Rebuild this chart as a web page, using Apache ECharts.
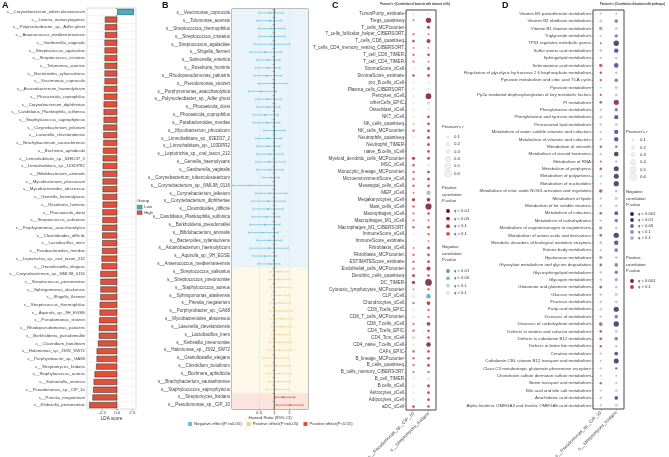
<!DOCTYPE html>
<html><head><meta charset="utf-8">
<script src="https://cdn.jsdelivr.net/npm/echarts@6/dist/echarts.min.js"></script>
<style>html,body{margin:0;padding:0;background:#fff}#c{width:669px;height:457px}</style>
</head><body><div id="c"></div>
<script>
const FONT = 'Liberation Sans, Arial, sans-serif';

// ---------- Panel A: LDA scores ----------
const aNames = ['s__Corynebacterium_tuberculostearicum','s__Listeria_monocytogenes','s__Polynucleobacter_sp._Adler ghost','s__Anaerococcus_mediterraneensis','s__Gardnerella_vaginalis','s__Streptococcus_agalactiae','s__Streptococcus_cristatus','s__Tolumonas_auensis','s__Bacteroides_xylanisolvens','s__Vescimonas_coprocola','s__Arcanobacterium_haemolyticum','s__Phocaeicola_coprophilus','s__Corynebacterium_diphtheriae','s__Candidatus_Planktophila_sulfonica','s__Staphylococcus_saprophyticus','s__Corynebacterium_jeikeium','s__Laeonella_clevelandensis','s__Brachybacterium_saurashtrense','s__Buchnera_aphidicola','s__Limnohabitans_sp._63ED37_2','s__Limnohabitans_sp._103DPR2','s__Bifidobacterium_animalis','s__Mycobacterium_phocaicum','s__Mycobacteroides_abscessus','s__Gemella_haemolysans','s__Roseburia_hominis','s__Phocaeicola_dorei','s__Streptococcus_salivarius','s__Porphyromonas_asaccharolytica','s__Clostridioides_difficile','s__Lactobacillus_iners','s__Parabacteroides_merdae','s__Leptotrichia_sp._oral_taxon_212','s__Granulicatella_elegans','s__Corynebacterium_sp._NML98_0116','s__Streptococcus_pneumoniae','s__Sphingomonas_alaskensis','s__Shigella_flexneri','s__Streptococcus_thermophilus','s__Aquirufa_sp._9H_EGSE','s__Pseudomonas_stutzeri','s__Rhodopseudomonas_palustris','s__Burkholderia_pseudomallei','s__Clostridium_botulinum','s__Halomonas_sp._JS92_SW72','s__Porphyrobacter_sp._GA68','s__Streptomyces_lividans','s__Staphylococcus_aureus','s__Salmonella_enterica','s__Pseudomonas_sp._CIP_10','s__Priestia_megaterium','s__Klebsiella_pneumoniae'];
const aLDA = [2.75,-2.05,-2.05,-2.05,-2.1,-2.1,-2.1,-2.1,-2.1,-2.1,-2.2,-2.2,-2.25,-2.25,-2.25,-2.3,-2.3,-2.3,-2.35,-2.4,-2.4,-2.42,-2.42,-2.42,-2.42,-2.42,-2.45,-2.45,-2.5,-2.5,-2.5,-2.52,-2.6,-2.6,-2.8,-2.78,-2.78,-2.8,-2.9,-2.92,-3.0,-3.05,-3.05,-3.2,-3.4,-3.42,-3.5,-3.75,-3.9,-4.0,-4.1,-4.65];
const aGroup = ['Low'].concat(Array(51).fill('High'));
const aTicks = [-2.5, 0, 2.5];

// ---------- Panel B: Hazard ratios ----------
const bNames = ['s__Vescimonas_coprocola','s__Tolumonas_auensis','s__Streptococcus_thermophilus','s__Streptococcus_cristatus','s__Streptococcus_agalactiae','s__Shigella_flexneri','s__Salmonella_enterica','s__Roseburia_hominis','s__Rhodopseudomonas_palustris','s__Pseudomonas_stutzeri','s__Porphyromonas_asaccharolytica','s__Polynucleobacter_sp._Adler ghost','s__Phocaeicola_dorei','s__Phocaeicola_coprophilus','s__Parabacteroides_merdae','s__Mycobacterium_phocaicum','s__Limnohabitans_sp._63ED37_2','s__Limnohabitans_sp._103DPR2','s__Leptotrichia_sp._oral_taxon_212','s__Gemella_haemolysans','s__Gardnerella_vaginalis','s__Corynebacterium_tuberculostearicum','s__Corynebacterium_sp._NML98_0116','s__Corynebacterium_jeikeium','s__Corynebacterium_diphtheriae','s__Clostridioides_difficile','s__Candidatus_Planktophila_sulfonica','s__Burkholderia_pseudomallei','s__Bifidobacterium_animalis','s__Bacteroides_xylanisolvens','s__Arcanobacterium_haemolyticum','s__Aquirufa_sp._9H_EGSE','s__Anaerococcus_mediterraneensis','s__Streptococcus_salivarius','s__Streptococcus_pneumoniae','s__Staphylococcus_aureus','s__Sphingomonas_alaskensis','s__Priestia_megaterium','s__Porphyrobacter_sp._GA68','s__Mycobacteroides_abscessus','s__Laeonella_clevelandensis','s__Lactobacillus_iners','s__Klebsiella_pneumoniae','s__Halomonas_sp._JS92_SW72','s__Granulicatella_elegans','s__Clostridium_botulinum','s__Buchnera_aphidicola','s__Brachybacterium_saurashtrense','s__Staphylococcus_saprophyticus','s__Streptomyces_lividans','s__Pseudomonas_sp._CIP_10'];
const bLo = [0.50,0.45,0.48,0.50,0.40,0.33,0.45,0.43,0.40,0.48,0.31,0.43,0.45,0.38,0.38,0.62,0.43,0.45,0.45,0.43,0.45,0.59,0.15,0.43,0.36,0.38,0.36,0.33,0.31,0.45,0.33,0.38,0.48,0.82,0.76,0.82,0.89,0.82,0.82,0.82,0.89,0.89,0.82,0.76,0.60,0.67,0.70,0.76,0.70,1.03,1.10];
const bHR = [0.82,0.82,0.89,0.89,0.89,0.65,0.76,0.74,0.72,0.95,0.56,0.74,0.76,0.65,0.72,1.00,0.76,0.74,0.82,0.80,0.82,0.89,0.33,0.82,0.76,0.76,0.70,0.65,0.60,0.80,0.80,0.65,0.82,1.20,1.20,1.30,1.30,1.30,1.30,1.40,1.40,1.30,1.30,1.25,1.03,1.10,1.25,1.20,1.10,1.50,2.05];
const bHi = [1.50,1.40,1.63,1.63,2.05,1.40,1.30,1.30,1.40,1.76,1.10,1.40,1.30,1.20,1.30,1.63,1.40,1.30,1.50,1.63,1.50,1.25,1.02,1.76,1.63,1.50,1.30,1.30,1.20,1.40,1.90,1.10,1.30,1.90,2.05,2.20,2.05,2.05,2.30,2.30,2.20,2.05,2.20,2.20,1.90,2.05,2.20,2.05,1.90,2.55,3.70];
const bGroup = Array(33).fill('neg').concat(Array(16).fill('pos'), ['sig','sig']);
const bTicks = [0.5, 1, 2];
const bRef = 1;

// ---------- Panel C: correlation with immune cells ----------
const cNames = ['TumorPurity_estimate','Tregs_quantiseq','T_cells_MCPcounter','T_cells_follicular_helper_CIBERSORT','T_cells_CD8_quantiseq','T_cells_CD4_memory_resting_CIBERSORT','T_cell_CD8_TIMER','T_cell_CD4_TIMER','StromaScore_xCell','StromaScore_estimate','pro_B.cells_xCell','Plasma_cells_CIBERSORT','Pericytes_xCell','otherCells_EPIC','Osteoblast_xCell','NKT_xCell','NK_cells_quantiseq','NK_cells_MCPcounter','Neutrophils_quantiseq','Neutrophil_TIMER','naive_B.cells_xCell','Myeloid_dendritic_cells_MCPcounter','MSC_xCell','Monocytic_lineage_MCPcounter','MicroenvironmentScore_xCell','Mesangial_cells_xCell','MEP_xCell','Megakaryocytes_xCell','Mast_cells_xCell','Macrophages_xCell','Macrophages_M1_xCell','Macrophages_M1_CIBERSORT','ImmuneScore_xCell','ImmuneScore_estimate','Fibroblasts_xCell','Fibroblasts_MCPcounter','ESTIMATEScore_estimate','Endothelial_cells_MCPcounter','Dendritic_cells_quantiseq','DC_TIMER','Cytotoxic_lymphocytes_MCPcounter','CLP_xCell','Chondrocytes_xCell','CD8_Tcells_EPIC','CD8_T_cells_MCPcounter','CD8_T.cells_xCell','CD4_Tcells_EPIC','CD4_Tcm_xCell','CD4_naive_T.cells_xCell','CAFs_EPIC','B_lineage_MCPcounter','B_cells_quantiseq','B_cells_memory_CIBERSORT','B_cell_TIMER','B.cells_xCell','Astrocytes_xCell','Adipocytes_xCell','aDC_xCell'];
const cCols = ['s__Pseudomonas_sp._CIP_10','s__Streptomyces_lividans'];
const cR1 = [-0.12,0.08,-0.06,0.10,0.15,0.06,0.12,0.10,-0.10,0.15,-0.12,-0.12,-0.15,-0.10,-0.14,-0.10,-0.16,0.12,-0.14,-0.12,-0.10,0.20,0.14,0.12,0.12,0.14,0.06,0.20,0.14,0.10,0.10,0.14,-0.10,-0.06,0.06,0.12,0.12,0.12,0.20,0.22,0.06,-0.20,0.12,-0.14,-0.14,0.10,0.12,-0.22,-0.14,0.14,0.12,0.10,0.10,-0.10,-0.12,-0.12,-0.12,0.16];
const cQ1 = ['>0.1','>0.1','>0.1','>0.1','<0.1','>0.1','>0.1','>0.1','>0.1','<0.1','>0.1','>0.1','>0.1','>0.1','>0.1','>0.1','<0.1','>0.1','>0.1','>0.1','>0.1','<0.05','>0.1','>0.1','>0.1','>0.1','>0.1','<0.05','>0.1','>0.1','>0.1','>0.1','>0.1','>0.1','>0.1','>0.1','>0.1','>0.1','<0.1','<0.05','>0.1','>0.1','>0.1','>0.1','>0.1','>0.1','>0.1','<0.1','>0.1','>0.1','>0.1','>0.1','>0.1','>0.1','>0.1','>0.1','>0.1','<0.1'];
const cR2 = [-0.14,0.42,0.20,0.06,0.30,0.06,0.16,0.06,0.18,0.16,-0.12,-0.14,0.45,-0.22,-0.14,0.14,0.16,0.18,0.18,0.18,0.14,0.18,-0.14,0.16,0.18,0.14,-0.32,0.26,0.50,0.14,0.08,0.14,0.12,0.06,0.16,0.16,0.16,0.30,0.14,0.55,0.12,-0.34,0.26,0.12,0.12,0.26,0.14,0.14,0.34,0.14,0.16,0.18,0.12,-0.24,0.20,0.16,0.16,0.14];
const cQ2 = ['>0.1','<0.01','<0.05','>0.1','<0.05','>0.1','<0.1','>0.1','<0.1','<0.1','>0.1','>0.1','<0.01','<0.1','>0.1','<0.1','<0.1','<0.1','<0.1','<0.1','<0.1','<0.1','>0.1','<0.1','<0.1','<0.1','<0.05','<0.05','<0.01','<0.1','>0.1','<0.1','>0.1','>0.1','<0.1','<0.1','<0.1','<0.05','<0.1','<0.01','>0.1','<0.01','<0.05','>0.1','>0.1','<0.05','<0.1','<0.1','<0.01','<0.1','<0.1','<0.1','>0.1','>0.1','<0.1','<0.1','<0.1','<0.1'];

// ---------- Panel D: correlation with pathways ----------
const dNames = ['Vitamin B5 pantothenate metabolism','Vitamin B2 riboflavin metabolism','Vitamin B1 thiamin metabolism','Triglyceride metabolism','TP53 regulates metabolic genes','Sulfur amino acid metabolism','Sphingolipid metabolism','Selenoamino acid metabolism','Regulation of glycolysis by fructose 2 6 bisphosphate metabolism','Pyruvate metabolism and citric acid TCA cycle','Pyruvate metabolism','Pp2a mediated dephosphorylation of key metabolic factors','PI metabolism','Phenylalanine metabolism','Phenylalanine and tyrosine metabolism','Peroxisomal lipid metabolism','Metabolism of water soluble vitamins and cofactors','Metabolism of vitamins and cofactors','Metabolism of steroids','Metabolism of steroid hormones','Metabolism of RNA','Metabolism of porphyrins','Metabolism of polyamines','Metabolism of nucleotides','Metabolism of nitric oxide NOS3 activation and regulation','Metabolism of lipids','Metabolism of fat soluble vitamins','Metabolism of cofactors','Metabolism of carbohydrates','Metabolism of angiotensinogen to angiotensins','Metabolism of amino acids and derivatives','Metabolic disorders of biological oxidation enzymes','Ketone body metabolism','Hyaluronan metabolism','Glyoxylate metabolism and glycine degradation','Glycosphingolipid metabolism','Glycogen metabolism','Glutamate and glutamine metabolism','Glucose metabolism','Fructose metabolism','Fatty acid metabolism','Diseases of metabolism','Diseases of carbohydrate metabolism','Defects in vitamin and cofactor metabolism','Defects in cobalamin B12 metabolism','Defects in biotin btn metabolism','Creatine metabolism','Cobalamin CBL vitamin B12 transport and metabolism','Class C3 metabotropic glutamate pheromone receptors','Chondroitin sulfate dermatan sulfate metabolism','Biotin transport and metabolism','Bile acid and bile salt metabolism','Arachidonic acid metabolism','Alpha linolenic OMEGA3 and linoleic OMEGA6 acid metabolism'];
const dCols = ['s__Pseudomonas_sp._CIP_10','s__Streptomyces_lividans'];
const dR1 = [-0.10,-0.14,-0.22,-0.12,0.06,-0.14,-0.12,0.22,0.12,0.10,-0.06,0.10,0.14,-0.12,-0.14,-0.12,-0.12,-0.12,0.12,-0.12,0.08,0.14,-0.12,-0.06,0.22,-0.12,-0.12,0.14,-0.12,-0.20,0.14,-0.16,-0.10,-0.20,0.14,-0.12,-0.12,0.16,-0.12,-0.14,-0.12,-0.12,-0.26,0.14,0.16,0.12,-0.12,-0.10,-0.12,-0.06,0.12,-0.10,-0.14,-0.10];
const dQ1 = ['>0.1','>0.1','<0.1','>0.1','>0.1','>0.1','>0.1','>0.1','>0.1','>0.1','>0.1','>0.1','>0.1','>0.1','>0.1','>0.1','>0.1','>0.1','>0.1','>0.1','>0.1','>0.1','>0.1','>0.1','>0.1','>0.1','>0.1','>0.1','>0.1','<0.1','>0.1','>0.1','>0.1','<0.1','>0.1','>0.1','>0.1','>0.1','>0.1','>0.1','>0.1','>0.1','<0.05','>0.1','>0.1','>0.1','>0.1','>0.1','>0.1','>0.1','>0.1','>0.1','>0.1','>0.1'];
const dR2 = [-0.10,-0.24,-0.14,-0.22,-0.42,-0.32,-0.14,-0.34,-0.14,-0.24,-0.14,-0.14,0.40,-0.22,-0.30,-0.16,-0.30,-0.32,0.12,-0.36,-0.14,-0.38,-0.38,-0.40,-0.16,-0.16,-0.14,-0.26,-0.24,-0.14,-0.42,-0.32,-0.24,-0.12,-0.24,-0.24,-0.20,-0.16,-0.16,-0.16,-0.40,-0.24,-0.42,-0.14,-0.24,-0.14,-0.26,-0.38,0.12,-0.08,-0.10,-0.14,-0.26,-0.14];
const dQ2 = ['>0.1','<0.05','>0.1','<0.05','<0.001','<0.01','>0.1','<0.01','>0.1','<0.05','>0.1','>0.1','<0.001','<0.05','<0.01','>0.1','<0.01','<0.01','>0.1','<0.001','>0.1','<0.001','<0.001','<0.001','>0.1','>0.1','>0.1','<0.01','<0.05','>0.1','<0.001','<0.01','<0.05','>0.1','<0.05','<0.05','<0.1','>0.1','>0.1','>0.1','<0.001','<0.05','<0.001','>0.1','<0.05','>0.1','<0.01','<0.001','>0.1','>0.1','>0.1','>0.1','<0.01','>0.1'];

const sizeLevels = [0.1, 0.2, 0.3, 0.4, 0.5, 0.6];

// ---------- styles ----------
const groupColor = {Low: '#3FB1C2', High: '#E0513A'};
const bandColor = {neg: '#E9F4FA', pos: '#FDF8E7', sig: '#FAE4DE'};
const ciColor = {neg: '#68C3D6', pos: '#F0D486', sig: '#D9533C'};
const ciName = {neg: 'Negative effect(P>=0.05)', pos: 'Positive effect(P>=0.05)', sig: 'Positive effect(P<0.05)'};
const cPos = {'<0.01': '#6B0E1E', '<0.05': '#9B1B2C', '<0.1': '#C0282F', '>0.1': '#DE4B3F'};
const cNeg = {'<0.01': '#45A6B6', '<0.05': '#8FBAA6', '<0.1': '#C9D8AE', '>0.1': '#E8E7CB'};
const dNeg = {'<0.001': '#2A2258', '<0.01': '#3F3388', '<0.05': '#6C63A5', '<0.1': '#948EBD', '>0.1': '#B6B3CC'};
const dPos = {'<0.001': '#7C1630', '>0.1': '#BE3346'};
const dotSize = r => 1.2 + Math.abs(r) * 10;
const TXT = '#444';

// ---------- build series data ----------
const lowData = aLDA.map((v, i) => aGroup[i] === 'Low' ? v : '-');
const highData = aLDA.map((v, i) => aGroup[i] === 'High' ? v : '-');

function ciSeries(g) {
  const data = [];
  bNames.forEach((n, i) => {
    if (bGroup[i] === g) data.push([Math.log2(bLo[i]), Math.log2(bHR[i]), Math.log2(bHi[i]), i]);
  });
  return {
    type: 'custom', name: ciName[g], xAxisIndex: 1, yAxisIndex: 1,
    itemStyle: {color: ciColor[g]}, data: data, encode: {x: [0, 1, 2], y: 3}, z: 3,
    renderItem: function (params, api) {
      const y = api.value(3);
      const p0 = api.coord([api.value(0), y]);
      const p1 = api.coord([api.value(2), y]);
      const pm = api.coord([api.value(1), y]);
      const col = ciColor[g];
      const cap = 1.3;
      return {type: 'group', children: [
        {type: 'line', shape: {x1: p0[0], y1: p0[1], x2: p1[0], y2: p1[1]}, style: {stroke: col, lineWidth: 0.7}},
        {type: 'line', shape: {x1: p0[0], y1: p0[1] - cap, x2: p0[0], y2: p0[1] + cap}, style: {stroke: col, lineWidth: 0.6}},
        {type: 'line', shape: {x1: p1[0], y1: p1[1] - cap, x2: p1[0], y2: p1[1] + cap}, style: {stroke: col, lineWidth: 0.6}},
        {type: 'circle', shape: {cx: pm[0], cy: pm[1], r: 0.9}, style: {fill: col}}
      ]};
    }
  };
}
const refSeries = {
  type: 'custom', xAxisIndex: 1, yAxisIndex: 1, data: [[Math.log2(bRef), 0]], encode: {x: 0, y: 1}, z: 4, silent: true,
  renderItem: function (params, api) {
    const cs = params.coordSys;
    const p = api.coord([api.value(0), 0]);
    return {type: 'line', shape: {x1: p[0], y1: cs.y, x2: p[0], y2: cs.y + cs.height}, style: {stroke: '#333', lineWidth: 0.8}};
  }
};

function dotData(names, r1, q1, r2, q2, pos, neg) {
  const out = [];
  names.forEach((n, i) => {
    [[r1, q1], [r2, q2]].forEach((pair, j) => {
      const r = pair[0][i], q = pair[1][i];
      const col = r >= 0 ? pos[q] : neg[q];
      out.push({value: [j, i, r], itemStyle: {color: col}});
    });
  });
  return out;
}

// ---------- graphic legends ----------
const G = [];
function T(x, y, text, size, extra) {
  G.push({type: 'text', x: x, y: y, silent: true, style: Object.assign({text: text, fontSize: size, fontFamily: FONT, fill: '#333', align: 'left', verticalAlign: 'middle', textAlign: 'left', textVerticalAlign: 'middle'}, extra || {})});
}
function C(x, y, r, fill, stroke) {
  G.push({type: 'circle', silent: true, shape: {cx: x, cy: y, r: r}, style: {fill: fill, stroke: stroke || null, lineWidth: 0.5}});
}
[['A', 2], ['B', 162], ['C', 332], ['D', 502]].forEach(p => T(p[1], 6, p[0], 9, {fontWeight: 'bold', fill: '#111'}));
T(415, 4, "Pearson's r (Correlation of bacteria with immune cells)", 2.7, {fontWeight: 'bold', align: 'center', textAlign: 'center'});
T(600, 4, "Pearson's r (Correlation of bacteria with pathways)", 2.7, {fontWeight: 'bold'});
T(137, 201, 'Group', 4.4);

function sizeLegend(xh, xc, xt, yTitle, y0, dy) {
  T(xh, yTitle, "Pearson's r", 4.3);
  sizeLevels.forEach((s, i) => {
    C(xc, y0 + i * dy, dotSize(s) / 2, '#f1f1f1', '#d0d0d0');
    T(xt, y0 + i * dy, String(s), 4.3);
  });
}
function colorLegend(xh, xc, xt, title, yTitle, keys, cmap, y0, dy) {
  title.forEach((t, k) => T(xh, yTitle + k * 6.5, t, 4.2));
  keys.forEach((q, i) => {
    C(xc, y0 + i * dy, 1.9, cmap[q]);
    T(xt, y0 + i * dy, 'q ' + q.charAt(0) + ' ' + q.slice(1), 4.2);
  });
}
sizeLegend(442, 448, 454, 127, 137, 7.3);
colorLegend(442, 448, 454, ['Positive', 'correlation', 'P-value'], 188, ['<0.01', '<0.05', '<0.1', '>0.1'], cPos, 211, 7.6);
colorLegend(442, 448, 454, ['Negative', 'correlation', 'P-value'], 247, ['<0.01', '<0.05', '<0.1', '>0.1'], cNeg, 271, 7.3);
sizeLegend(626, 633, 640, 132, 140, 7.4);
colorLegend(626, 632, 638, ['Negative', 'correlation', 'P-value'], 192, ['<0.001', '<0.01', '<0.05', '<0.1', '>0.1'], dNeg, 214, 6);
colorLegend(626, 632, 638, ['Positive', 'correlation', 'P-value'], 258, ['<0.001', '>0.1'], dPos, 281, 6);

// ---------- option ----------
const ylab = size => ({fontSize: size, color: TXT, margin: 2, interval: 0, fontFamily: FONT});
const ytick = () => ({show: true, length: 1.5, interval: 0, lineStyle: {color: '#555', width: 0.5}});

const option = {
  animation: false,
  textStyle: {fontFamily: FONT},
  grid: [
    {left: 87, top: 8, width: 49, height: 401, show: true, borderColor: '#c4c4c4', borderWidth: 0.6, backgroundColor: '#fff', outerBoundsMode: 'none'},
    {left: 232, top: 9, width: 76, height: 400, show: true, borderColor: '#555', borderWidth: 0.8, outerBoundsMode: 'none'},
    {left: 406, top: 10, width: 30, height: 400, show: true, borderColor: '#333', borderWidth: 0.9, outerBoundsMode: 'none'},
    {left: 593, top: 10, width: 31, height: 399, show: true, borderColor: '#333', borderWidth: 0.9, outerBoundsMode: 'none'}
  ],
  legend: [
    {data: ['Low', 'High'], left: 137, top: 205, orient: 'vertical', itemWidth: 5, itemHeight: 4, itemGap: 1.2, padding: 0, selectedMode: false, icon: 'rect',
      itemStyle: {borderWidth: 0.3},
      textStyle: {fontSize: 4.3, color: '#333', padding: [0, 0, 0, -3]}},
    {data: [ciName.neg, ciName.pos, ciName.sig], left: 188, top: 422, orient: 'horizontal', itemWidth: 4, itemHeight: 4, itemGap: 5, padding: 0, selectedMode: false, icon: 'rect',
      textStyle: {fontSize: 4.3, color: '#333', padding: [0, 0, 0, -3]}}
  ],
  xAxis: [
    {type: 'value', gridIndex: 0, min: -5, max: 3.1, interval: 1.25,
      axisLine: {show: false},
      axisTick: {show: true, length: 1.5, customValues: aTicks, lineStyle: {color: '#555', width: 0.5}},
      axisLabel: {customValues: aTicks, fontSize: 4.4, color: TXT, margin: 2,
        formatter: v => aTicks.some(t => Math.abs(t - v) < 1e-6) ? v.toFixed(1) : ''},
      splitLine: {show: true, lineStyle: {color: '#ebebeb', width: 0.5}},
      name: 'LDA score', nameLocation: 'middle', nameGap: 7, nameMoveOverlap: false, nameTextStyle: {fontSize: 4.6, color: '#333'}},
    {type: 'value', gridIndex: 1, min: -2.78, max: 2.22,
      axisLine: {show: false},
      axisTick: {show: true, length: 1.5, customValues: bTicks.map(Math.log2), lineStyle: {color: '#555', width: 0.5}},
      axisLabel: {customValues: bTicks.map(Math.log2), fontSize: 4.4, color: TXT, margin: 1.5,
        formatter: v => bTicks.some(t => Math.abs(Math.log2(t) - v) < 1e-6) ? String(Math.round(Math.pow(2, v) * 100) / 100) : ''},
      splitLine: {show: true, lineStyle: {color: 'rgba(140,160,180,0.22)', width: 0.5}},
      name: 'Hazard Ratio (95% CI)', nameLocation: 'middle', nameGap: 7.2, nameMoveOverlap: false, nameTextStyle: {fontSize: 4.3, color: '#333'}},
    {type: 'category', gridIndex: 2, data: cCols,
      axisLine: {show: false}, axisTick: {show: true, length: 1.5, alignWithLabel: true, lineStyle: {color: '#555', width: 0.5}},
      axisLabel: {rotate: 45, fontSize: 4.6, color: TXT, margin: 3, interval: 0}},
    {type: 'category', gridIndex: 3, data: dCols,
      axisLine: {show: false}, axisTick: {show: true, length: 1.5, alignWithLabel: true, lineStyle: {color: '#555', width: 0.5}},
      axisLabel: {rotate: 45, fontSize: 4.6, color: TXT, margin: 3, interval: 0}}
  ],
  yAxis: [
    {type: 'category', gridIndex: 0, data: aNames, inverse: true,
      axisLine: {show: false}, axisTick: ytick(), axisLabel: ylab(4.3),
      splitLine: {show: true, interval: 0, lineStyle: {color: '#ededed', width: 0.5}}},
    {type: 'category', gridIndex: 1, data: bNames, inverse: true,
      axisLine: {show: false}, axisTick: ytick(), axisLabel: ylab(4.5),
      splitArea: {show: true, interval: 0, areaStyle: {color: bGroup.map(g => bandColor[g])}}},
    {type: 'category', gridIndex: 2, data: cNames, inverse: true,
      axisLine: {show: false}, axisTick: Object.assign(ytick(), {alignWithLabel: true}), axisLabel: ylab(4.6)},
    {type: 'category', gridIndex: 3, data: dNames, inverse: true,
      axisLine: {show: false}, axisTick: Object.assign(ytick(), {alignWithLabel: true}), axisLabel: ylab(4.4)}
  ],
  series: [
    {type: 'bar', name: 'Low', xAxisIndex: 0, yAxisIndex: 0, stack: 'lda', data: lowData, barCategoryGap: '22%',
      itemStyle: {color: groupColor.Low, borderColor: '#2b2b2b', borderWidth: 0.5}},
    {type: 'bar', name: 'High', xAxisIndex: 0, yAxisIndex: 0, stack: 'lda', data: highData, barCategoryGap: '22%',
      itemStyle: {color: groupColor.High, borderColor: '#2b2b2b', borderWidth: 0.5}},
    ciSeries('neg'),
    ciSeries('pos'),
    ciSeries('sig'),
    refSeries,
    {type: 'scatter', xAxisIndex: 2, yAxisIndex: 2, data: dotData(cNames, cR1, cQ1, cR2, cQ2, cPos, cNeg),
      symbolSize: v => dotSize(v[2]), z: 4},
    {type: 'scatter', xAxisIndex: 3, yAxisIndex: 3, data: dotData(dNames, dR1, dQ1, dR2, dQ2, dPos, dNeg),
      symbolSize: v => dotSize(v[2]), z: 4}
  ],
  graphic: {elements: G}
};

const chart = echarts.init(document.getElementById('c'), null, {renderer: 'canvas'});
chart.setOption(option);
</script></body></html>
